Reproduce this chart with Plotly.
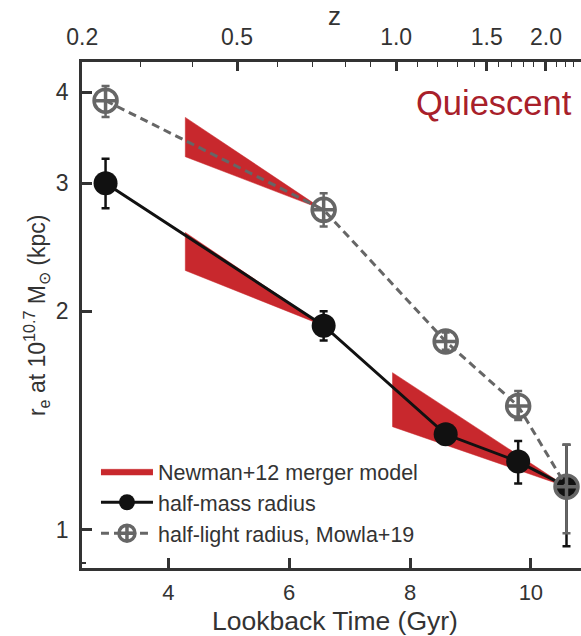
import plotly.graph_objects as go

# ---------------- data ----------------
lookback = [2.96, 6.57, 8.59, 9.79, 10.59]          # Gyr
re_mass = [3.00, 1.91, 1.354, 1.242, 1.147]          # half-mass radius (kpc)
re_mass_hi = [3.24, 2.00, 1.39, 1.326, 1.31]
re_mass_lo = [2.77, 1.823, 1.32, 1.159, 0.95]

re_light = [3.896, 2.757, 1.817, 1.481, 1.147]      # half-light radius, Mowla+19
re_light_hi = [4.08, 2.906, 1.87, 1.553, 1.31]
re_light_lo = [3.70, 2.615, 1.77, 1.417, 0.99]

# Newman+12 merger model wedges: start time, start upper/lower, end time, end value
band_t0 = [4.28, 4.28, 7.71]
band_hi0 = [3.695, 2.566, 1.646]
band_lo0 = [3.262, 2.275, 1.387]
band_t1 = [6.57, 6.57, 10.59]
band_v1 = [2.757, 1.91, 1.147]

# top axis: redshift ticks and their lookback times (Gyr)
z_labels = ["0.2", "0.5", "1.0", "1.5", "2.0"]
z_major_t = [2.575, 5.136, 7.77, 9.27, 10.25]
z_minor_t = [3.54, 4.40, 5.81, 6.38, 6.93, 7.34, 8.12, 8.46, 8.78, 9.06,
             9.47, 9.68, 9.87, 10.05, 10.42, 10.57, 10.71]

y_ticks = [1, 2, 3, 4]
y_minor = [0.9]
x_ticks = [4, 6, 8, 10]

X_RANGE = [2.57, 10.83]
Y_RANGE = [-0.0523, 0.6438]   # log10

RED = "#c8282d"
DARK = "#111111"
GRAY = "#666666"
AX = "#333333"
TXT = "#333333"
FONT = "Liberation Sans, Arial, sans-serif"
TICK_SIZE = 23

# ---------------- figure ----------------
fig = go.Figure()

bx, by = [], []
for t0, h0, l0, t1, v1 in zip(band_t0, band_hi0, band_lo0, band_t1, band_v1):
    bx += [t0, t1, t0, t0, None]
    by += [h0, v1, l0, h0, None]
fig.add_trace(go.Scatter(
    x=bx, y=by, mode="lines", fill="toself", fillcolor=RED,
    line=dict(color=RED, width=0.5), name="Newman+12 merger model",
    hoverinfo="skip"))

fig.add_trace(go.Scatter(
    x=lookback, y=re_mass, mode="lines+markers", name="half-mass radius",
    line=dict(color=DARK, width=3),
    marker=dict(color=DARK, size=24, symbol="circle"),
    error_y=dict(type="data", symmetric=False,
                 array=[h - v for h, v in zip(re_mass_hi, re_mass)],
                 arrayminus=[v - l for l, v in zip(re_mass_lo, re_mass)],
                 color=DARK, thickness=2.5, width=4)))

fig.add_trace(go.Scatter(
    x=lookback, y=re_light, mode="lines+markers",
    name="half-light radius, Mowla+19",
    line=dict(color=GRAY, width=3, dash="8px,5px"),
    marker=dict(color=GRAY, size=23, symbol="circle-cross-open",
                line=dict(color=GRAY, width=3.5)),
    error_y=dict(type="data", symmetric=False,
                 array=[h - v for h, v in zip(re_light_hi, re_light)],
                 arrayminus=[v - l for l, v in zip(re_light_lo, re_light)],
                 color=GRAY, thickness=2.5, width=4)))

fig.update_layout(
    width=581, height=636,
    margin=dict(l=82, r=0, t=62, b=68),
    paper_bgcolor="white", plot_bgcolor="white",
    font=dict(family=FONT, size=21, color=TXT),
    showlegend=True,
    legend=dict(x=0.028, y=0.028, xanchor="left", yanchor="bottom",
                bgcolor="rgba(0,0,0,0)", font=dict(size=21.5, color=TXT),
                itemwidth=52, tracegroupgap=0),
    xaxis=dict(range=X_RANGE, tickvals=x_ticks, ticks="inside", ticklen=10,
               tickwidth=2.5, tickcolor=AX, showline=True, linewidth=2.5,
               linecolor=AX, showgrid=False, zeroline=False,
               tickfont=dict(size=22), ticklabelstandoff=3),
    xaxis2=dict(range=X_RANGE, overlaying="x", side="top", matches="x",
                tickvals=z_major_t, ticktext=z_labels, ticks="inside",
                ticklen=9, tickwidth=2.5, tickcolor=AX, showline=True,
                linewidth=2.5, linecolor=AX, showgrid=False, zeroline=False,
                tickfont=dict(size=TICK_SIZE), ticklabelstandoff=5,
                minor=dict(tickvals=z_minor_t, ticks="inside", ticklen=5,
                           tickwidth=1.2, tickcolor=AX, showgrid=False)),
    yaxis=dict(type="log", range=Y_RANGE, tickvals=y_ticks,
               ticktext=[str(v) for v in y_ticks], ticks="inside",
               ticklen=10, tickwidth=2.5, tickcolor=AX, showline=True,
               linewidth=2.5, linecolor=AX, showgrid=False, zeroline=False,
               tickfont=dict(size=TICK_SIZE), ticklabelstandoff=6,
               minor=dict(tickvals=y_minor, ticks="inside", ticklen=4,
                          tickwidth=1.5, tickcolor=AX, showgrid=False)),
)

# ensure top axis is drawn
fig.add_trace(go.Scatter(x=[None], y=[None], xaxis="x2", showlegend=False,
                         hoverinfo="skip"))

fig.add_annotation(text="Lookback Time (Gyr)", xref="paper", yref="paper",
                   x=0.507, y=-0.105, xanchor="center", yanchor="middle",
                   showarrow=False, font=dict(size=26.5, color=TXT))
fig.add_annotation(text="z", xref="paper", yref="paper",
                   x=0.507, y=1.09, xanchor="center", yanchor="middle",
                   showarrow=False, font=dict(size=26, color=TXT))
fig.add_annotation(text="r<sub>e</sub> at 10<sup>10.7</sup> M<sub>⊙</sub> (kpc)",
                   xref="paper", yref="paper", x=-0.092, y=0.50,
                   xanchor="center", yanchor="middle", textangle=-90,
                   showarrow=False, font=dict(size=23, color=TXT))
fig.add_annotation(text="Quiescent", xref="paper", yref="paper",
                   x=0.986, y=0.919, xanchor="right", yanchor="middle",
                   showarrow=False, font=dict(size=34.5, color="#a8202a"))

fig.write_html("out.html")
